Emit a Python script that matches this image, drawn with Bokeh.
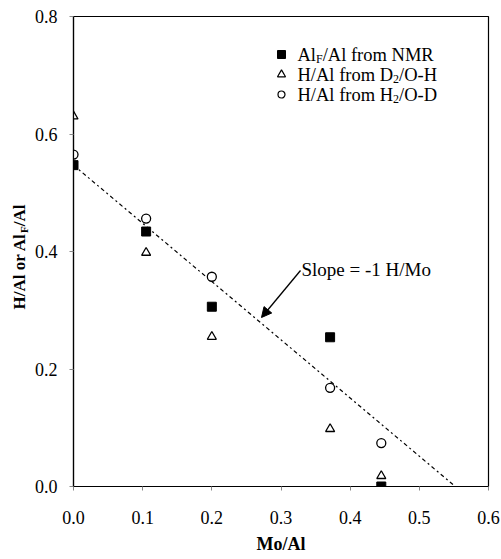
import math
from bokeh.plotting import figure
from bokeh.layouts import row
from bokeh.models import Range1d, NumeralTickFormatter, Label, Arrow, NormalHead
from bokeh.embed import file_html
from bokeh.resources import INLINE

# ---------------- data ----------------
mo_al = [0.0, 0.105, 0.2, 0.371, 0.445]
alf_nmr = [0.547, 0.434, 0.306, 0.254, 0.0]
h_d2o = [0.630, 0.398, 0.255, 0.098, 0.018]
h_h2o = [0.565, 0.456, 0.357, 0.168, 0.074]
slope_x = [0.0, 0.552]
slope_y = [0.547, 0.0]
x_ticks = [0.0, 0.1, 0.2, 0.3, 0.4, 0.5, 0.6]
y_ticks = [0.0, 0.2, 0.4, 0.6, 0.8]
slope_text = "Slope = -1 H/Mo"
x_label = "Mo/Al"

# ---------------- layout ----------------
W, H = 501, 559
LW = 30                      # width of the strip holding the y-axis title
L, R, T, B = 73, 488, 16, 486  # frame edges in page pixels
XMAX, YMAX = 0.6, 0.8
FONT = "'Liberation Serif'"


def px2x(px):
    return (px - L) / (R - L) * XMAX


def py2y(py):
    return (B - py) / (B - T) * YMAX


p = figure(width=W - LW, height=H, output_backend="svg", toolbar_location=None,
           x_range=Range1d(0, XMAX), y_range=Range1d(0, YMAX),
           min_border_left=L - LW, min_border_right=W - R, min_border_top=T, min_border_bottom=H - B)
p.background_fill_color = "white"
p.border_fill_color = "white"
p.outline_line_color = "black"
p.outline_line_width = 1.2
p.xgrid.visible = False
p.ygrid.visible = False

for ax in (p.xaxis[0], p.yaxis[0]):
    ax.axis_line_color = "black"
    ax.axis_line_width = 1.2
    ax.major_tick_in = 0
    ax.major_tick_out = 4
    ax.major_tick_line_color = "#888888"
    ax.minor_tick_line_color = None
    ax.major_label_text_font = FONT
    ax.major_label_text_font_size = "18px"
    ax.major_label_text_color = "black"
    ax.formatter = NumeralTickFormatter(format="0.0")

p.xaxis.ticker = x_ticks
p.yaxis.ticker = y_ticks
p.xaxis.major_label_standoff = 20
p.yaxis.major_label_standoff = 12
p.xaxis.axis_label = x_label
p.xaxis.axis_label_text_font = FONT
p.xaxis.axis_label_text_font_style = "bold"
p.xaxis.axis_label_text_font_size = "18px"
p.xaxis.axis_label_standoff = 7
p.xaxis.axis_label_text_color = "black"

# slope line
p.line(slope_x, slope_y, line_color="black", line_width=1.2, line_dash="4 3 2 3")

# data markers
MS = 9
p.scatter(mo_al, alf_nmr, marker="square", size=MS, fill_color="black", line_color="black")
p.scatter(mo_al, h_d2o, marker="triangle", size=MS, fill_color="white", line_color="black", line_width=1.3)
p.scatter(mo_al, h_h2o, marker="circle", size=MS, fill_color="white", line_color="black", line_width=1.3)

# Times metrics (per 1000 em)
REG = {' ': 250, '/': 278, '-': 333, '=': 564, '1': 500, '2': 500, 'A': 722, 'D': 722, 'F': 556,
       'H': 722, 'M': 889, 'N': 722, 'O': 722, 'R': 667, 'S': 556, 'e': 444, 'f': 333, 'l': 278,
       'm': 778, 'o': 500, 'p': 500, 'r': 333}
BOLD = {' ': 250, '/': 278, 'A': 722, 'l': 278, 'o': 500, 'r': 444, 'F': 611, 'H': 778, 'M': 944}


def twidth(s, size, table):
    return sum(table.get(c, 500) for c in s) * size / 1000.0


def rich_h(x_px, y_px, parts, size, sub_size, sub_drop):
    """horizontal text with subscripts, pixel positions converted to data"""
    x = x_px
    for txt, sub in parts:
        fs = sub_size if sub else size
        yy = y_px + (sub_drop if sub else 0)
        p.add_layout(Label(x=px2x(x), y=py2y(yy), text=txt, text_font=FONT,
                           text_font_size=f"{fs}px", text_baseline="middle", text_align="left",
                           text_color="black"))
        x += twidth(txt, fs, REG)


# legend
leg_rows = [54, 74, 94]
leg_mx = 281
LMS = 8
p.scatter([px2x(leg_mx)], [py2y(leg_rows[0])], marker="square", size=LMS, fill_color="black", line_color="black")
p.scatter([px2x(leg_mx)], [py2y(leg_rows[1])], marker="triangle", size=LMS, fill_color="white", line_color="black", line_width=1.2)
p.scatter([px2x(leg_mx)], [py2y(leg_rows[2])], marker="circle", size=LMS - 1, fill_color="white", line_color="black", line_width=1.2)
leg_parts = [
    [("Al", False), ("F", True), ("/Al from NMR", False)],
    [("H/Al from D", False), ("2", True), ("/O-H", False)],
    [("H/Al from H", False), ("2", True), ("/O-D", False)],
]
for rw, parts in zip(leg_rows, leg_parts):
    rich_h(297, rw, parts, 18.5, 12, 4)

# slope annotation
p.add_layout(Label(x=px2x(301), y=py2y(269), text=slope_text, text_font=FONT, text_font_size="19px",
                   text_baseline="middle", text_align="left", text_color="black"))
p.add_layout(Arrow(end=NormalHead(size=10, fill_color="black", line_color="black"),
                   x_start=px2x(300), y_start=py2y(270), x_end=px2x(261), y_end=py2y(317),
                   line_color="black", line_width=1.3))

# ---------------- y-axis title strip (rotated, with subscript) ----------------
# its frame shares the main frame's top and bottom, so data y == page pixel y
q = figure(width=LW, height=H, output_backend="svg", toolbar_location=None,
           x_range=Range1d(0, LW), y_range=Range1d(B, T),
           min_border_left=0, min_border_right=0, min_border_top=T, min_border_bottom=H - B)
q.axis.visible = False
q.grid.visible = False
q.outline_line_color = None
q.background_fill_color = "white"
q.border_fill_color = "white"

y_title_parts = [("H/Al or Al", False), ("F", True), ("/Al", False)]
yy = 309.0
for txt, sub in y_title_parts:
    fs = 11 if sub else 17
    xx = 19 + (4 if sub else 0)
    q.add_layout(Label(x=xx, y=yy, text=txt, text_font=FONT, text_font_size=f"{fs}px",
                       text_font_style="bold", text_baseline="middle", text_align="left",
                       angle=math.pi / 2, text_color="black"))
    yy -= twidth(txt, fs, BOLD)

layout = row(q, p, spacing=0)
open("out.html", "w").write(file_html(layout, INLINE))
